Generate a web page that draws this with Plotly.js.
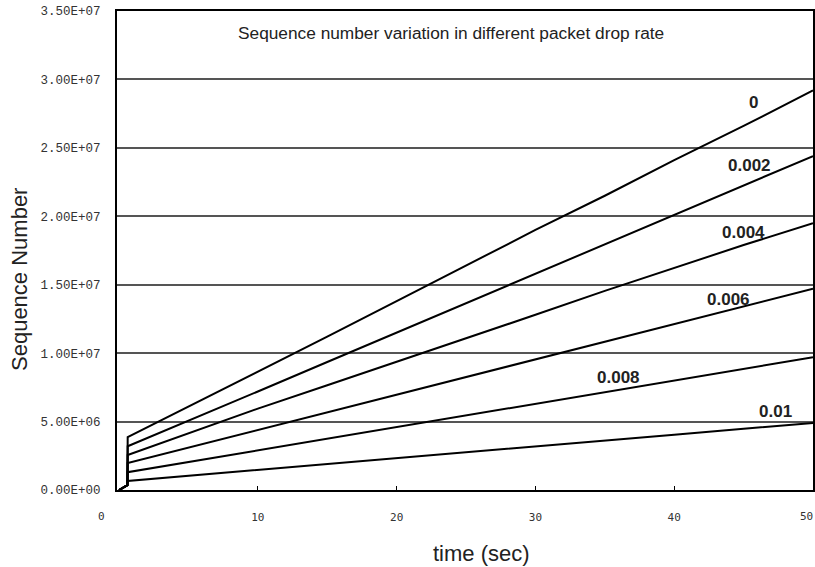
<!DOCTYPE html>
<html>
<head>
<meta charset="utf-8">
<script src="https://cdn.plot.ly/plotly-3.0.1.min.js"></script>
<style>html,body{margin:0;padding:0;background:#fff;}#chart{width:815px;height:567px;}</style>
</head>
<body>
<div id="chart"></div>
<script>
// time axis (sec)
const timeSec = [0, 0.6, 0.62, 5, 10, 15, 20, 25, 30, 35, 40, 45, 50];
// sequence numbers per packet drop rate
const seqDrop0     = [0, 3.5e5, 3.87e6, 6.10e6, 8.60e6, 1.120e7, 1.380e7, 1.640e7, 1.900e7, 2.150e7, 2.410e7, 2.660e7, 2.920e7];
const seqDrop0002  = [0, 3.5e5, 3.20e6, 5.05e6, 7.20e6, 9.35e6, 1.150e7, 1.370e7, 1.585e7, 1.800e7, 2.010e7, 2.225e7, 2.440e7];
const seqDrop0004  = [0, 3.5e5, 2.56e6, 4.15e6, 5.95e6, 7.65e6, 9.35e6, 1.105e7, 1.280e7, 1.455e7, 1.625e7, 1.790e7, 1.950e7];
const seqDrop0006  = [0, 3.5e5, 1.97e6, 3.10e6, 4.38e6, 5.67e6, 6.96e6, 8.25e6, 9.55e6, 1.085e7, 1.210e7, 1.340e7, 1.470e7];
const seqDrop0008  = [0, 3.5e5, 1.30e6, 2.04e6, 2.89e6, 3.74e6, 4.60e6, 5.45e6, 6.30e6, 7.15e6, 8.00e6, 8.85e6, 9.70e6];
const seqDrop001   = [0, 3.5e5, 0.66e6, 1.03e6, 1.46e6, 1.89e6, 2.32e6, 2.75e6, 3.18e6, 3.61e6, 4.04e6, 4.47e6, 4.90e6];

const seriesNames = ["0", "0.002", "0.004", "0.006", "0.008", "0.01"];
const seriesValues = [seqDrop0, seqDrop0002, seqDrop0004, seqDrop0006, seqDrop0008, seqDrop001];
// label anchor positions (data coordinates) for each series label
const labelTime = [45.7, 45.4, 45.0, 43.9, 36.0, 47.3];
const labelSeq  = [2.83e7, 2.37e7, 1.88e7, 1.39e7, 8.2e6, 5.7e6];

const yTickVals = [0, 5e6, 1e7, 1.5e7, 2e7, 2.5e7, 3e7, 3.5e7];
const yTickText = ["0.00E+00", "5.00E+06", "1.00E+07", "1.50E+07", "2.00E+07", "2.50E+07", "3.00E+07", "3.50E+07"];
const xTickVals = [10, 20, 30, 40];
const xTickText = ["10", "20", "30", "40"];
const xEdgeLabels = [{t: "0", px: 101, anchor: 'center'}, {t: "50", px: 815, anchor: 'right'}];

const traces = seriesValues.map((vals, i) => ({
  x: timeSec, y: vals, type: 'scatter', mode: 'lines', name: seriesNames[i],
  line: {color: '#000', width: 2}, hoverinfo: 'skip'
}));

const sans = 'Liberation Sans, Arial, sans-serif';
const annotations = seriesNames.map((n, i) => ({
  x: labelTime[i], y: labelSeq[i], xref: 'x', yref: 'y', text: '<b>' + n + '</b>',
  xanchor: 'center', yanchor: 'middle',
  showarrow: false, font: {family: sans, size: 17, color: '#222'}
}));
annotations.push({
  xref: 'paper', yref: 'paper', x: (451 - 117) / 696, y: 1 - (33 - 11) / 479,
  xanchor: 'center', yanchor: 'middle',
  text: 'Sequence number variation in different packet drop rate', showarrow: false,
  font: {family: sans, size: 17.3, color: '#222'}
});
annotations.push({
  xref: 'paper', yref: 'paper', x: (481 - 117) / 696, y: -(553 - 490) / 479,
  xanchor: 'center', yanchor: 'middle',
  text: 'time (sec)', showarrow: false,
  font: {family: sans, size: 22, color: '#222'}
});
annotations.push({
  xref: 'paper', yref: 'paper', x: (19 - 117) / 696, y: (490 - 280) / 479,
  xanchor: 'center', yanchor: 'middle',
  text: 'Sequence Number', showarrow: false, textangle: -90,
  font: {family: sans, size: 22, color: '#222'}
});
xEdgeLabels.forEach(l => annotations.push({
  xref: 'paper', yref: 'paper', x: (l.px - 117) / 696, y: -(516 - 490) / 479,
  xanchor: l.anchor, yanchor: 'middle',
  text: l.t, showarrow: false,
  font: {family: 'DejaVu Sans Mono, monospace', size: 11, color: '#333'}
}));

const layout = {
  width: 815, height: 567,
  margin: {l: 117, r: 2, t: 11, b: 77, pad: 0},
  paper_bgcolor: '#fff', plot_bgcolor: '#fff',
  showlegend: false,
  xaxis: {
    range: [-0.15, 50], tickvals: xTickVals, ticktext: xTickText,
    ticks: 'inside', ticklen: 4, tickwidth: 1.2, tickcolor: '#000',
    showgrid: false, zeroline: false,
    showline: true, linecolor: '#000', linewidth: 2, mirror: true,
    ticklabelstandoff: 16,
    tickfont: {family: 'DejaVu Sans Mono, monospace', size: 11, color: '#333'}
  },
  yaxis: {
    range: [0, 3.5e7], tickvals: yTickVals, ticktext: yTickText,
    ticks: '', showgrid: true, gridcolor: '#555', gridwidth: 2, zeroline: false,
    showline: true, linecolor: '#000', linewidth: 2, mirror: true,
    ticklabelstandoff: 12,
    tickfont: {family: 'Liberation Mono, Courier New, monospace', size: 12.5, color: '#333'}
  },
  annotations: annotations
};

Plotly.newPlot('chart', traces, layout, {staticPlot: true, displayModeBar: false});
</script>
</body>
</html>
